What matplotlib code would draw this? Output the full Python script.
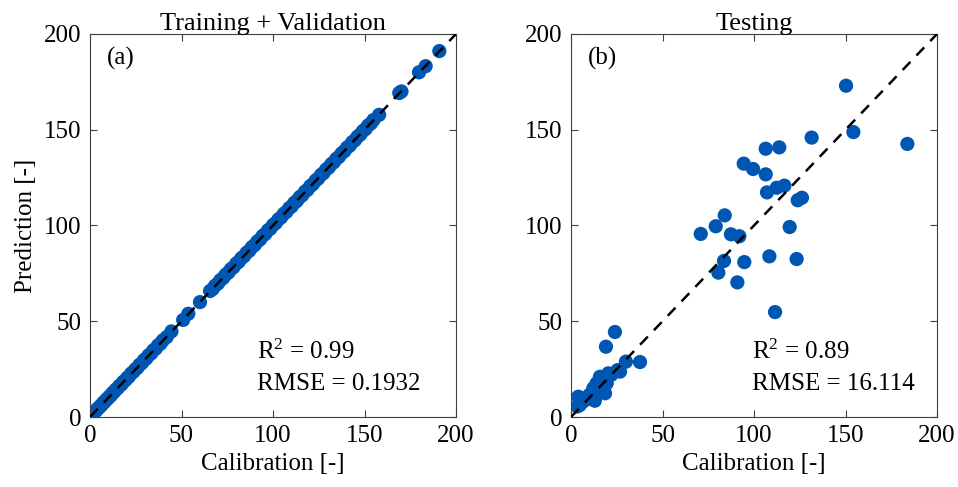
import numpy as np
import matplotlib.pyplot as plt

plt.rcParams['font.family'] = ['Liberation Serif', 'DejaVu Serif']
plt.rcParams['mathtext.fontset'] = 'custom'
plt.rcParams['mathtext.rm'] = 'Liberation Serif'
plt.rcParams['mathtext.it'] = 'Liberation Serif:italic'

# training + validation set
train_cal = [3.2, 4.1, 5.0, 5.8, 6.5, 7.3, 8.1, 9.0, 9.8, 10.6, 11.5, 12.3, 13.2, 14.0,
             15.1, 16.0, 17.2, 18.1, 19.3, 20.4, 21.2, 22.5, 23.6, 24.8, 25.9, 27.0,
             28.3, 29.5, 30.8, 32.0, 33.4, 34.6, 35.9, 37.2, 38.5, 39.8, 41.9, 44.5,
             50.9, 53.7, 60.1, 65.6, 67.0, 68.3, 69.9, 71.2, 72.8, 74.1, 75.6, 77.0,
             78.4, 79.9, 81.3, 82.7, 84.2, 85.6, 87.1, 88.5, 90.0, 91.4, 92.9, 94.3,
             95.8, 97.2, 98.6, 100.1, 101.5, 103.0, 104.4, 105.9, 107.3, 108.8, 110.2,
             111.7, 113.1, 114.6, 116.0, 117.5, 118.9, 120.4, 121.8, 123.3, 124.7,
             126.2, 127.6, 129.1, 130.5, 131.8, 133.2, 134.6, 136.1, 137.5, 139.0,
             140.4, 141.9, 143.3, 144.8, 146.2, 147.7, 149.1, 150.6, 152.0, 153.5,
             154.9, 158.0, 169.0, 170.2, 179.8, 183.4, 190.9]
train_pred = [3.1, 4.3, 4.9, 5.9, 6.4, 7.5, 8.0, 9.2, 9.7, 10.7, 11.3, 12.5, 13.1, 14.2,
              15.0, 16.2, 17.0, 18.3, 19.2, 20.5, 21.0, 22.7, 23.5, 24.9, 25.7, 27.2,
              28.1, 29.7, 30.6, 32.2, 33.2, 34.8, 35.7, 37.4, 38.3, 40.0, 41.7, 44.7,
              50.7, 53.9, 60.0, 65.8, 66.8, 68.5, 69.7, 71.4, 72.6, 74.3, 75.4, 77.2,
              78.2, 80.1, 81.1, 82.9, 84.0, 85.8, 86.9, 88.7, 89.8, 91.6, 92.7, 94.5,
              95.6, 97.4, 98.4, 100.3, 101.3, 103.2, 104.2, 106.1, 107.1, 109.0, 110.0,
              111.9, 112.9, 114.8, 115.8, 117.7, 118.7, 120.6, 121.6, 123.5, 124.5,
              126.4, 127.4, 129.3, 130.3, 132.0, 133.0, 134.8, 135.9, 137.7, 138.8,
              140.6, 141.7, 143.5, 144.6, 146.4, 147.5, 149.3, 150.4, 152.2, 153.3,
              155.1, 157.8, 169.2, 170.0, 180.0, 183.2, 191.1]

# testing set
test_cal = [150.3, 154.3, 183.8, 131.5, 106.4, 113.8, 94.4, 99.5, 106.4, 107.1, 112.4,
            116.6, 123.9, 126.2, 84.0, 79.1, 70.9, 87.4, 92.0, 119.5, 83.6, 94.7, 108.4,
            123.3, 80.5, 90.9, 111.5, 24.0, 19.1, 37.7, 30.0, 26.8, 20.4, 15.8, 14.0,
            19.5, 12.2, 18.6, 11.3, 4.0, 4.9, 8.0, 14.9, 17.0, 22.0, 25.5, 13.0, 10.0,
            6.5, 3.5]
test_pred = [173.0, 148.8, 142.6, 145.9, 140.1, 140.8, 132.3, 129.5, 126.7, 117.3, 119.7,
             120.8, 113.2, 114.5, 105.3, 99.6, 95.6, 95.4, 94.4, 99.2, 81.5, 80.9, 83.9,
             82.5, 75.4, 70.3, 54.8, 44.4, 36.7, 28.7, 28.9, 23.7, 22.8, 21.0, 17.6,
             17.6, 15.0, 12.4, 9.8, 10.6, 6.3, 9.0, 13.2, 19.0, 22.0, 24.5, 8.5, 11.5,
             8.0, 5.5]

panels = [
    ('Training + Validation', '(a)', train_cal, train_pred, '0.99', '0.1932', 91),
    ('Testing', '(b)', test_cal, test_pred, '0.89', '16.114', 99),
]

fig = plt.figure(figsize=(9.58, 4.87), dpi=100)
lefts = [90 / 958, 571 / 958]
color = '#0057b3'
fs = 18

for i, (title, tag, cal, pred, r2, rmse, tx) in enumerate(panels):
    ax = fig.add_axes([lefts[i], 70 / 487, 366 / 958, 383 / 487])
    ax.scatter(cal, pred, s=105, color=color, edgecolors='none', zorder=2)
    ax.plot([0, 200], [0, 200], 'k--', lw=1.8, dashes=(4.5, 3.5), zorder=3)
    ax.set_xlim(0, 200)
    ax.set_ylim(0, 200)
    ax.set_xticks([0, 50, 100, 150, 200])
    ax.set_yticks([0, 50, 100, 150, 200])
    ax.tick_params(direction='in', top=True, right=True, labelsize=fs,
                   length=5, color='#404040', pad=6)
    for sp in ax.spines.values():
        sp.set_color('#404040')
        sp.set_linewidth(0.8)
    ax.set_title(title, fontsize=19, pad=3)
    ax.set_xlabel('Calibration [-]', fontsize=fs, labelpad=4)
    if i == 0:
        ax.set_ylabel('Prediction [-]', fontsize=fs, labelpad=5)
    ax.text(9, 193, tag, fontsize=fs, va='top')
    ax.text(tx, 34, 'R$^{\\mathrm{2}}$ = ' + r2, fontsize=fs, va='center')
    ax.text(tx, 17, 'RMSE = ' + rmse, fontsize=fs, va='center')

fig.savefig('out.png', dpi=100)
